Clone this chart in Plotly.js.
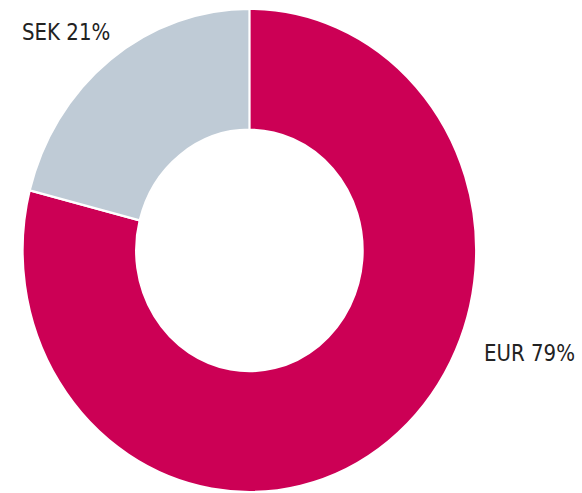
<!DOCTYPE html>
<html>
<head>
<meta charset="utf-8">
<script src="https://cdn.plot.ly/plotly-3.0.1.min.js"></script>
<style>
  html { margin: 0; padding: 0; overflow: hidden; background: #ffffff; }
  body { margin: 0; padding: 0; width: 582px; height: 493px; background: #ffffff; }
  #chart { width: 582px; height: 463px; transform: scaleY(1.0653); transform-origin: 0 0; }
</style>
</head>
<body>
<div id="chart"></div>
<script>
// Data
var currencies = ["EUR", "SEK"];
var shares = [79, 21];
var sliceColors = ["#CC0055", "#BFCBD6"];

var labelText = currencies.map(function (c, i) { return c + " " + shares[i] + "%"; });

var trace = {
  type: "pie",
  labels: currencies,
  values: shares,
  hole: 0.5,
  sort: false,
  direction: "counterclockwise",
  rotation: 0,
  textinfo: "none",
  hoverinfo: "label+percent",
  marker: { colors: sliceColors, line: { color: "#ffffff", width: 2 } },
  domain: { x: [0.039, 0.818], y: [0.0026, 0.982] },
  showlegend: false
};

var annFont = { family: "DejaVu Sans Condensed, DejaVu Sans, sans-serif", size: 22, color: "#222222" };

var layout = {
  width: 582,
  height: 463,
  margin: { l: 0, r: 0, t: 0, b: 0 },
  paper_bgcolor: "#ffffff",
  showlegend: false,
  annotations: [
    { text: labelText[1], x: 0.0344, y: 0.934, xref: "paper", yref: "paper",
      xanchor: "left", yanchor: "middle", showarrow: false, font: annFont },
    { text: labelText[0], x: 0.8277, y: 0.2843, xref: "paper", yref: "paper",
      xanchor: "left", yanchor: "middle", showarrow: false, font: annFont }
  ]
};

Plotly.newPlot("chart", [trace], layout, { displayModeBar: false, staticPlot: true });
</script>
</body>
</html>
